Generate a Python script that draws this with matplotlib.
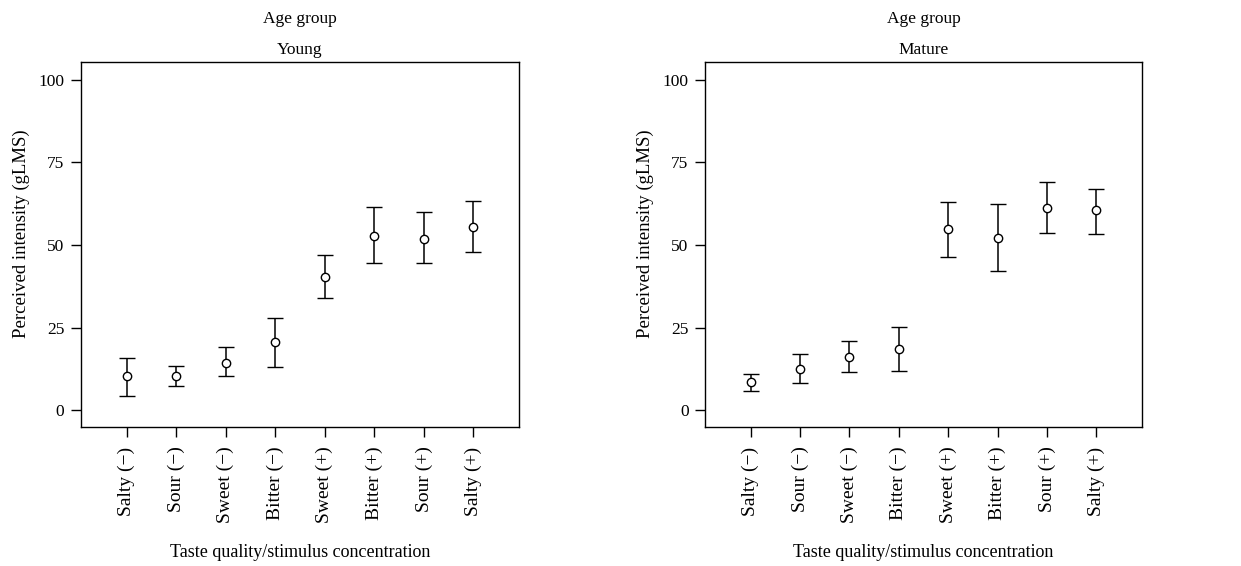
import matplotlib.pyplot as plt
import numpy as np

plt.rcParams['font.family'] = ['Liberation Serif', 'DejaVu Serif']

tastes = ['Salty (\u2212)', 'Sour (\u2212)', 'Sweet (\u2212)', 'Bitter (\u2212)',
          'Sweet (+)', 'Bitter (+)', 'Sour (+)', 'Salty (+)']

# Young group: mean, lower bound, upper bound
young_mean = [10.4, 10.4, 14.4, 20.7, 40.3, 52.9, 52.0, 55.5]
young_low = [4.5, 7.3, 10.3, 13.0, 33.9, 44.6, 44.5, 47.8]
young_high = [16.0, 13.3, 19.1, 28.0, 46.9, 61.4, 59.9, 63.5]

# Mature group
mature_mean = [8.6, 12.6, 16.1, 18.6, 54.8, 52.2, 61.3, 60.5]
mature_low = [5.8, 8.3, 11.6, 11.9, 46.5, 42.3, 53.7, 53.5]
mature_high = [11.0, 17.2, 21.0, 25.2, 63.1, 62.3, 69.1, 67.1]

groups = ['Young', 'Mature']

fig = plt.figure(figsize=(12.41, 5.66), dpi=100)
ax1 = fig.add_axes([0.0653, 0.2456, 0.3529, 0.6449])
ax2 = fig.add_axes([0.5683, 0.2456, 0.3517, 0.6449])

data = [(young_mean, young_low, young_high), (mature_mean, mature_low, mature_high)]
x = np.arange(1, len(tastes) + 1)

for ax, name, (m, lo, hi) in zip([ax1, ax2], groups, data):
    m = np.array(m)
    err = [m - np.array(lo), np.array(hi) - m]
    ax.errorbar(x, m, yerr=err, fmt='o', mfc='white', mec='black', ms=6,
                mew=1.0, ecolor='black', elinewidth=1.1, capsize=6, capthick=1.1,
                color='black')
    ax.set_xlim(0.08, 8.92)
    ax.set_ylim(-5, 105.4)
    ax.set_yticks([0, 25, 50, 75, 100])
    ax.set_xticks(x)
    ax.set_xticklabels(tastes, rotation=90)
    ax.tick_params(direction='out', length=7, width=1, labelsize=12.5, pad=5)
    ax.tick_params(axis='x', labelsize=14, pad=7)
    for s in ax.spines.values():
        s.set_linewidth(1.0)
    ax.set_ylabel('Perceived intensity (gLMS)', fontsize=13.5, labelpad=6, y=0.53)
    ax.set_xlabel('Taste quality/stimulus concentration', fontsize=13, labelpad=15)
    ax.set_title('Age group\n' + name, fontsize=12.5, linespacing=2.25, pad=6)

fig.savefig('out.png', dpi=100)
